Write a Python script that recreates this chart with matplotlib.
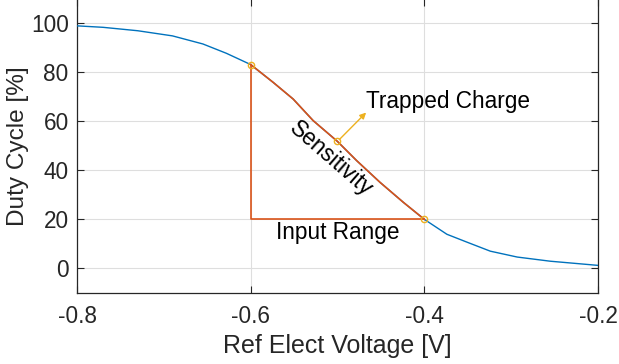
import matplotlib
matplotlib.use("Agg")
import matplotlib.pyplot as plt

plt.rcParams['font.family'] = ['Liberation Sans', 'DejaVu Sans']

# duty cycle curve
volts = [-0.80, -0.77, -0.73, -0.69, -0.655, -0.628, -0.60, -0.574, -0.551, -0.528,
         -0.50, -0.478, -0.451, -0.424, -0.40, -0.374, -0.351, -0.324, -0.293, -0.255, -0.20]
duty = [99.0, 98.4, 97.0, 94.9, 91.6, 87.8, 83.2, 75.9, 69.1, 60.3,
        51.8, 44.0, 35.1, 26.9, 20.0, 13.9, 10.7, 7.0, 4.6, 2.9, 1.2]

# sensitivity segment and annotation points
seg_lo, seg_hi = -0.60, -0.40
mid_x, mid_y = -0.50, 51.8
arrow_x, arrow_y = -0.467, 63.6
xticks = [-0.8, -0.6, -0.4, -0.2]
yticks = [0, 20, 40, 60, 80, 100]

blue = '#0072BD'
orange = '#D95319'
yellow = '#EDB120'
axcol = '#262626'

fig = plt.figure(figsize=(6.19, 3.64), dpi=100)
ax = fig.add_axes([0.1244, 0.1956, 0.8416, 0.8074])

ax.plot(volts, duty, color=blue, lw=1.0, zorder=3)

# the part of the curve inside the input range
sx = [v for v in volts if seg_lo <= v <= seg_hi]
sy = [d for v, d in zip(volts, duty) if seg_lo <= v <= seg_hi]
ax.plot(sx, sy, color=orange, lw=1.2, zorder=4)
ax.plot([seg_lo, seg_lo, seg_hi], [sy[0], sy[-1], sy[-1]], color=orange, lw=1.2, zorder=4)

ax.plot([seg_lo, mid_x, seg_hi], [sy[0], mid_y, sy[-1]], 'o', ms=4.5, mfc='none',
        mec=yellow, mew=1.0, zorder=5)
ax.annotate('', xy=(arrow_x, arrow_y), xytext=(mid_x, mid_y),
            arrowprops=dict(arrowstyle='-|>', color=yellow, lw=1.0,
                            mutation_scale=9, shrinkA=2, shrinkB=0), zorder=5)

ax.text(arrow_x, 68, 'Trapped Charge', fontsize=16.3, ha='left', va='center')
ax.text(-0.508, 44.6, 'Sensitivity', fontsize=16.3, ha='center', va='center',
        rotation=-41, rotation_mode='anchor')
ax.text(-0.5, 14.6, 'Input Range', fontsize=16.3, ha='center', va='center')

ax.set_xlim(-0.8, -0.2)
ax.set_ylim(-10, 110)
ax.set_xticks(xticks)
ax.set_xticklabels([str(t) for t in xticks])
ax.set_yticks(yticks)
ax.grid(True, color='#DEDEDE', lw=0.8, zorder=0)
ax.set_axisbelow(True)
ax.tick_params(direction='in', top=True, right=True, length=5, width=0.8,
               colors=axcol, labelsize=16.3, pad=6)
ax.tick_params(axis='x', pad=9)
for s in ax.spines.values():
    s.set_color(axcol)
    s.set_linewidth(0.9)

ax.set_xlabel('Ref Elect Voltage [V]', fontsize=18, color=axcol, labelpad=4)
ax.set_ylabel('Duty Cycle [%]', fontsize=17.6, color=axcol, labelpad=1)

fig.savefig('out.png', dpi=100)
